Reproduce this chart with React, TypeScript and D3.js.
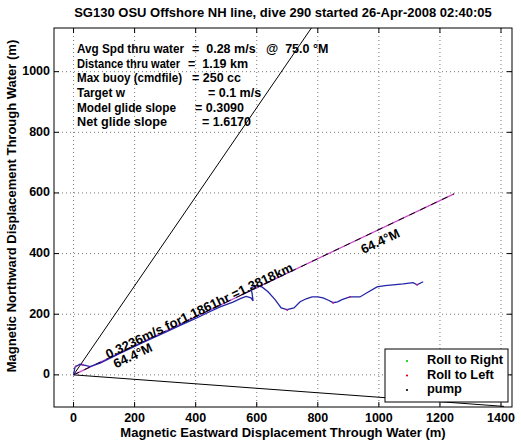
import React from "react";
import * as d3 from "d3";

const W = 521;
const H = 442;

const titleText = "SG130 OSU Offshore NH line, dive 290 started 26-Apr-2008 02:40:05";
const xLabel = "Magnetic Eastward Displacement Through Water (m)";
const yLabel = "Magnetic Northward Displacement Through Water (m)";

const xTicks = [0, 200, 400, 600, 800, 1000, 1200, 1400];
const yTicks = [0, 200, 400, 600, 800, 1000];
const xDomain = [-64, 1436];
const yDomain = [-106, 1144];

// glider track through water (m east, m north)
const trackX = [0, 5, 21, 38, 54, 70, 87, 150, 228, 300, 349, 400, 437, 480, 522, 548, 565, 581, 588, 585, 581, 598, 617, 637, 660, 680, 699, 722, 742, 762, 781, 800, 817, 835, 850, 865, 879, 905, 938, 961, 994, 1020, 1046, 1080, 1112, 1125, 1145];
const trackY = [0, 26, 35, 31, 27, 33, 39, 70, 107, 140, 163, 186, 204, 224, 240, 252, 259, 254, 244, 267, 287, 294, 290, 274, 248, 221, 215, 221, 241, 251, 257, 257, 254, 246, 238, 241, 248, 257, 257, 271, 290, 294, 297, 300, 304, 297, 307];

// roll-to-left marks on the track
const rollLeftX = [8, 30, 700, 850, 905, 1125];
const rollLeftY = [28, 33, 214, 238, 257, 297];

// net displacement line: 64.4 deg M, 1.3818 km
const courseHeading = 64.4;
const courseLengthKm = 1.3818;
const courseSpeed = 0.3236;
const courseHours = 1.1861;

// wedge lines
const wedgeUpper = [800, 1175];
const wedgeLower = [1410, -104];

const infoLabels = [
  "Avg Spd thru water",
  "Distance thru water",
  "Max buoy (cmdfile)",
  "Target w",
  "Model glide slope",
  "Net glide slope",
];
const infoValues = [
  "=  0.28 m/s   @  75.0 °M",
  "=  1.19 km",
  "= 250 cc",
  "= 0.1 m/s",
  "= 0.3090",
  "= 1.6170",
];

const legendLabels = ["Roll to Right", "Roll to Left", "pump"];
const legendColors = ["#00cc00", "#dd0000", "#000000"];

// layout
const M = { left: 54, right: 512, top: 28, bottom: 407 };
const infoValueX = [192, 188, 192, 208, 195, 202];
const infoLabelLen = [107, 103, 105, 48, 99, 90];
const FONT = "'Liberation Sans', Arial, Helvetica, sans-serif";

export default function App() {
  const x = d3.scaleLinear().domain(xDomain).range([M.left, M.right]);
  const y = d3.scaleLinear().domain(yDomain).range([M.bottom, M.top]);

  const rad = (courseHeading * Math.PI) / 180;
  const courseEnd = [
    courseLengthKm * 1000 * Math.sin(rad),
    courseLengthKm * 1000 * Math.cos(rad),
  ];
  const angle =
    (Math.atan2(y(courseEnd[1]) - y(0), x(courseEnd[0]) - x(0)) * 180) / Math.PI;

  const line = d3
    .line<[number, number]>()
    .x((d) => x(d[0]))
    .y((d) => y(d[1]));
  const track = line(trackX.map((v, i) => [v, trackY[i]]));

  // annotation anchors along the course (distance in m along-track, screen offset)
  const alongPoint = (dist: number, offsetPx: number) => {
    const px = x(dist * Math.sin(rad));
    const py = y(dist * Math.cos(rad));
    const a = (angle * Math.PI) / 180;
    return [px - Math.sin(a) * offsetPx, py + Math.cos(a) * offsetPx];
  };

  const t1 = alongPoint(125, 0.5);
  const t2 = alongPoint(135, 9);
  const t3 = alongPoint(1029, 12);

  const courseLabel = `${courseSpeed.toFixed(4)}m/s for${courseHours.toFixed(4)}hr =${courseLengthKm.toFixed(4)}km`;
  const headingLabel = `${courseHeading.toFixed(1)}°M`;

  const infoY = (i: number) => 50 + i * 14.6;

  return (
    <svg
      width={W}
      height={H}
      style={{ position: "absolute", left: 0, top: 0, background: "#fff" }}
      fontFamily={FONT}
      fontWeight="bold"
    >
      <defs>
        <clipPath id="plotclip">
          <rect x={M.left} y={M.top} width={M.right - M.left} height={M.bottom - M.top} />
        </clipPath>
      </defs>
      <rect x={0} y={0} width={W} height={H} fill="#fff" />

      {/* grid */}
      {xTicks.map((t) => (
        <line key={"gx" + t} x1={x(t)} x2={x(t)} y1={M.top} y2={M.bottom} stroke="#555" strokeWidth={0.8} strokeDasharray="1,3" />
      ))}
      {yTicks.map((t) => (
        <line key={"gy" + t} y1={y(t)} y2={y(t)} x1={M.left} x2={M.right} stroke="#555" strokeWidth={0.8} strokeDasharray="1,3" />
      ))}

      <g clipPath="url(#plotclip)">
        <line x1={x(0)} y1={y(0)} x2={x(wedgeUpper[0])} y2={y(wedgeUpper[1])} stroke="#000" strokeWidth={1} />
        <line x1={x(0)} y1={y(0)} x2={x(wedgeLower[0])} y2={y(wedgeLower[1])} stroke="#000" strokeWidth={1} />
        <line x1={x(0)} y1={y(0)} x2={x(courseEnd[0])} y2={y(courseEnd[1])} stroke="#cc44cc" strokeWidth={1.2} />
        <line x1={x(0)} y1={y(0)} x2={x(courseEnd[0])} y2={y(courseEnd[1])} stroke="#000" strokeWidth={1} strokeDasharray="6,6" />
        <path d={track || ""} fill="none" stroke="#2424a8" strokeWidth={1.3} />
        {rollLeftX.map((v, i) => (
          <circle key={"rl" + i} cx={x(v)} cy={y(rollLeftY[i])} r={1} fill="#c0208a" />
        ))}
      </g>

      {/* rotated annotations */}
      <text transform={`translate(${t1[0]},${t1[1]}) rotate(${angle})`} fontSize={13} fill="#000">
        {courseLabel}
      </text>
      <text transform={`translate(${t2[0]},${t2[1]}) rotate(${angle})`} fontSize={13} fill="#000" dominantBaseline="middle">
        {headingLabel}
      </text>
      <text transform={`translate(${t3[0]},${t3[1]}) rotate(${angle})`} fontSize={13} fill="#000" dominantBaseline="middle">
        {headingLabel}
      </text>

      {/* info text */}
      {infoLabels.map((s, i) => (
        <g key={"info" + i}>
          <text x={77} y={infoY(i)} fontSize={12.5} dominantBaseline="middle" textLength={infoLabelLen[i]} lengthAdjust="spacingAndGlyphs">{s}</text>
          <text x={infoValueX[i]} y={infoY(i)} fontSize={12.5} dominantBaseline="middle" style={{ whiteSpace: "pre" }}>{infoValues[i]}</text>
        </g>
      ))}

      {/* axes box */}
      <rect x={M.left} y={M.top} width={M.right - M.left} height={M.bottom - M.top} fill="none" stroke="#000" strokeWidth={1} />

      {/* ticks */}
      {xTicks.map((t) => (
        <g key={"tx" + t}>
          <line x1={x(t)} x2={x(t)} y1={M.bottom} y2={M.bottom - 5} stroke="#000" />
          <line x1={x(t)} x2={x(t)} y1={M.top} y2={M.top + 5} stroke="#000" />
          <text x={x(t)} y={419} fontSize={12.5} textAnchor="middle" dominantBaseline="middle">{t}</text>
        </g>
      ))}
      {yTicks.map((t) => (
        <g key={"ty" + t}>
          <line y1={y(t)} y2={y(t)} x1={M.left} x2={M.left + 5} stroke="#000" />
          <line y1={y(t)} y2={y(t)} x1={M.right} x2={M.right - 5} stroke="#000" />
          <text x={50} y={y(t)} fontSize={12.5} textAnchor="end" dominantBaseline="middle">{t}</text>
        </g>
      ))}

      {/* legend */}
      <rect x={385} y={349} width={123} height={53} fill="#fff" stroke="#000" strokeWidth={1} />
      {legendLabels.map((s, i) => (
        <g key={"lg" + i}>
          <circle cx={407} cy={361 + i * 14.5} r={1.1} fill={legendColors[i]} />
          <text x={427} y={361 + i * 14.5} fontSize={12.8} dominantBaseline="middle">{s}</text>
        </g>
      ))}

      {/* titles */}
      <text x={(M.left + M.right) / 2} y={14} fontSize={13} textAnchor="middle" dominantBaseline="middle">{titleText}</text>
      <text x={(M.left + M.right) / 2} y={434} fontSize={13} textAnchor="middle" dominantBaseline="middle">{xLabel}</text>
      <text transform={`translate(13,206) rotate(-90)`} fontSize={13} textAnchor="middle" dominantBaseline="middle">{yLabel}</text>
    </svg>
  );
}
